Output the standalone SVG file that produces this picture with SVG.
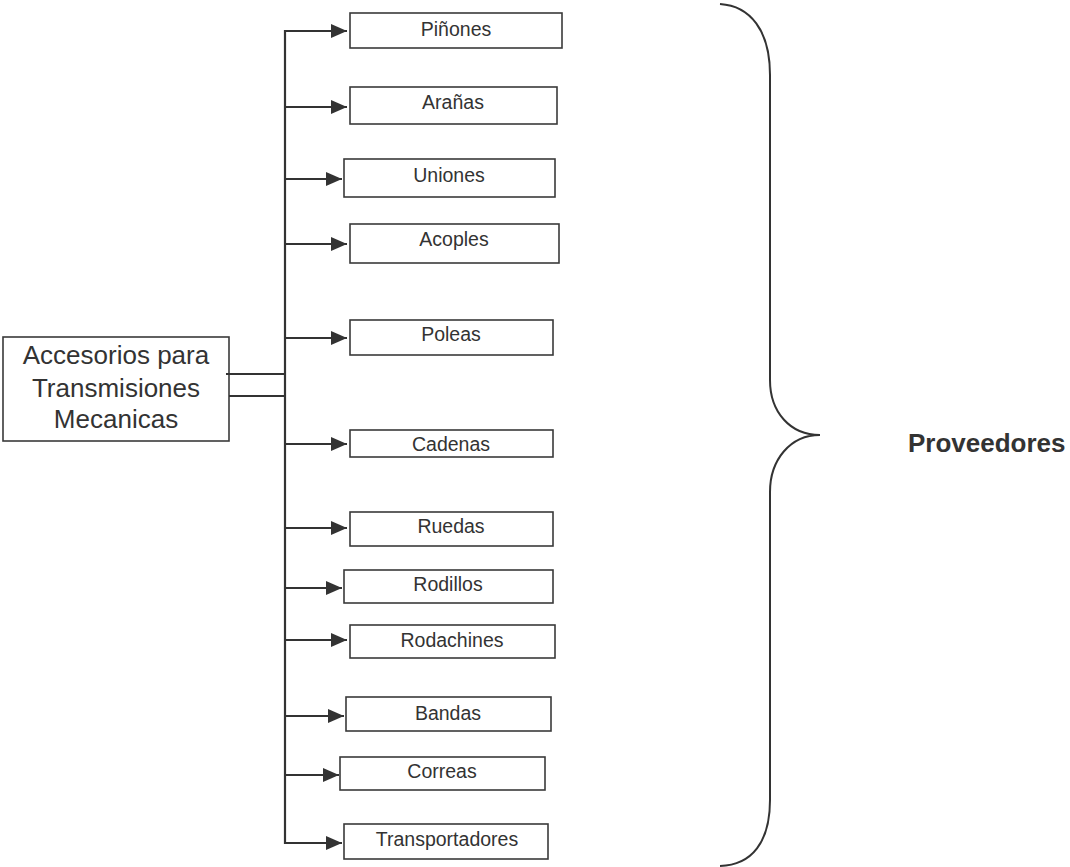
<svg xmlns="http://www.w3.org/2000/svg" width="1070" height="867" viewBox="0 0 1070 867">
  <style>
    .box { fill: #ffffff; stroke: #3a3a3a; stroke-width: 1.6; }
    .lbl { font-family: "Liberation Sans", Arial, sans-serif; font-size: 19.5px; fill: #333333; text-anchor: middle; }
    .big { font-family: "Liberation Sans", Arial, sans-serif; font-size: 26px; fill: #333333; text-anchor: middle; }
    .title { font-family: "Liberation Sans", Arial, sans-serif; font-size: 26px; font-weight: bold; fill: #333333; }
    .wire { fill: none; stroke: #333333; stroke-width: 2.2; }
    .arr { fill: none; stroke: #333333; stroke-width: 2.2; marker-end: url(#head); }
    .brace { fill: none; stroke: #333333; stroke-width: 2; }
  </style>
  <defs>
    <marker id="head" viewBox="0 0 16 14" refX="16" refY="7" markerWidth="16" markerHeight="14" markerUnits="userSpaceOnUse" orient="auto">
      <path d="M0,0 L16,7 L0,14 z" fill="#333333"/>
    </marker>
  </defs>

  <rect width="1070" height="867" fill="#ffffff"/>

  <!-- source node -->
  <g id="accesorios">
    <rect class="box" x="3" y="337" width="226" height="104"/>
    <text class="big" x="116" y="364">Accesorios para</text>
    <text class="big" x="116" y="397">Transmisiones</text>
    <text class="big" x="116" y="428">Mecanicas</text>
  </g>

  <!-- connectors -->
  <g id="connectors">
    <line class="wire" x1="226" y1="374" x2="286" y2="374"/>
    <line class="wire" x1="229" y1="396" x2="286" y2="396"/>
    <line class="wire" x1="285" y1="30" x2="285" y2="844"/>
    <line class="arr" x1="285" y1="31" x2="347" y2="31"/>
    <line class="arr" x1="285" y1="107" x2="347" y2="107"/>
    <line class="arr" x1="285" y1="179" x2="342" y2="179"/>
    <line class="arr" x1="285" y1="244" x2="347" y2="244"/>
    <line class="arr" x1="285" y1="338" x2="347" y2="338"/>
    <line class="arr" x1="285" y1="444" x2="347" y2="444"/>
    <line class="arr" x1="285" y1="528" x2="347" y2="528"/>
    <line class="arr" x1="285" y1="588" x2="342" y2="588"/>
    <line class="arr" x1="285" y1="640" x2="347" y2="640"/>
    <line class="arr" x1="285" y1="716" x2="344" y2="716"/>
    <line class="arr" x1="285" y1="775" x2="339" y2="775"/>
    <line class="arr" x1="285" y1="843" x2="342" y2="843"/>
  </g>

  <!-- target nodes -->
  <g id="pinones">
    <rect class="box" x="350" y="13" width="212" height="35"/>
    <text class="lbl" x="456" y="36">Piñones</text>
  </g>
  <g id="aranas">
    <rect class="box" x="350" y="87" width="207" height="37"/>
    <text class="lbl" x="453" y="109">Arañas</text>
  </g>
  <g id="uniones">
    <rect class="box" x="344" y="159" width="211" height="38"/>
    <text class="lbl" x="449" y="182">Uniones</text>
  </g>
  <g id="acoples">
    <rect class="box" x="350" y="224" width="209" height="39"/>
    <text class="lbl" x="454" y="246">Acoples</text>
  </g>
  <g id="poleas">
    <rect class="box" x="350" y="320" width="203" height="35"/>
    <text class="lbl" x="451" y="341">Poleas</text>
  </g>
  <g id="cadenas">
    <rect class="box" x="350" y="430" width="203" height="27"/>
    <text class="lbl" x="451" y="451">Cadenas</text>
  </g>
  <g id="ruedas">
    <rect class="box" x="350" y="512" width="203" height="34"/>
    <text class="lbl" x="451" y="533">Ruedas</text>
  </g>
  <g id="rodillos">
    <rect class="box" x="344" y="570" width="209" height="33"/>
    <text class="lbl" x="448" y="591">Rodillos</text>
  </g>
  <g id="rodachines">
    <rect class="box" x="350" y="625" width="205" height="33"/>
    <text class="lbl" x="452" y="647">Rodachines</text>
  </g>
  <g id="bandas">
    <rect class="box" x="346" y="697" width="205" height="34"/>
    <text class="lbl" x="448" y="720">Bandas</text>
  </g>
  <g id="correas">
    <rect class="box" x="340" y="757" width="205" height="33"/>
    <text class="lbl" x="442" y="778">Correas</text>
  </g>
  <g id="transportadores">
    <rect class="box" x="344" y="824" width="204" height="35"/>
    <text class="lbl" x="447" y="846">Transportadores</text>
  </g>

  <!-- grouping brace and its label -->
  <g id="proveedores">
    <path class="brace" d="M720,4 C750,6 770,30 770,75 L770,380 C770,412 790,435 820,435 C790,435 770,460 770,492 L770,800 C770,842 752,865 720,866"/>
    <text class="title" x="908" y="452">Proveedores</text>
  </g>
</svg>
